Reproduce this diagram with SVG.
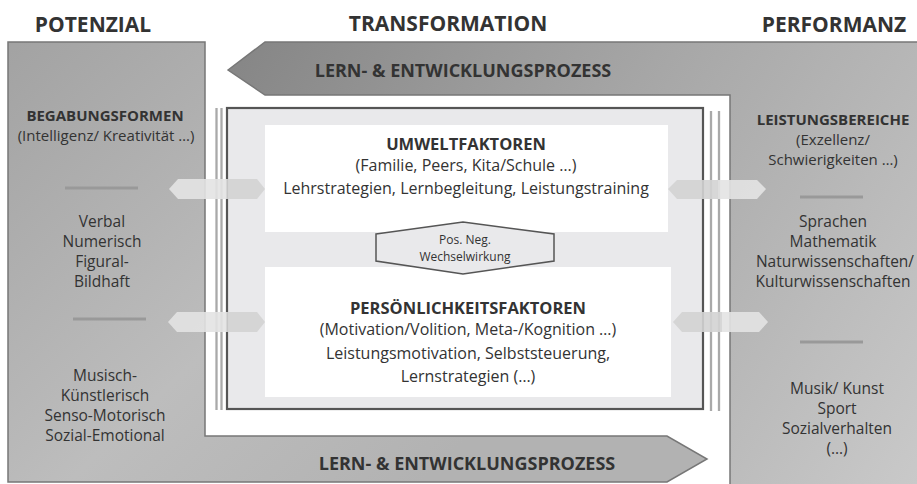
<svg xmlns="http://www.w3.org/2000/svg" width="917" height="484" viewBox="0 0 917 484">
<defs>
<linearGradient id="gL" gradientUnits="userSpaceOnUse" x1="0" y1="42" x2="420" y2="484">
<stop offset="0" stop-color="#a2a2a2"/><stop offset="0.6" stop-color="#bdbdbd"/><stop offset="1" stop-color="#b2b2b2"/>
</linearGradient>
<linearGradient id="gR" gradientUnits="userSpaceOnUse" x1="228" y1="42" x2="917" y2="484">
<stop offset="0" stop-color="#858585"/><stop offset="0.45" stop-color="#a6a6a6"/><stop offset="1" stop-color="#c9c9c9"/>
</linearGradient>
<style>
.pan{stroke:#777;stroke-width:1.5}
.t{font-family:"Open Sans","Noto Sans",sans-serif;fill:#333;text-anchor:middle}
.b{font-weight:bold}
.hd{font-size:21px}
.pr{font-size:18px}
.p{font-size:15.5px}
.s{font-size:15px}
.c{font-size:16px}
.sep{stroke:#999;stroke-width:3}
.vl{stroke:#a9a9a9;stroke-width:2.3}
.dl{fill:#e3e3e3;opacity:0.9}
.dr{fill:#d3d3d3;opacity:0.9}
</style>
</defs>
<g id="titles">
<text class="t b hd" x="93" y="32">POTENZIAL</text>
<text class="t b hd" x="448" y="31">TRANSFORMATION</text>
<text class="t b hd" x="834" y="32">PERFORMANZ</text>
</g>
<g id="potenzial">
<path class="pan" fill="url(#gL)" d="M8 42 H205 V436 H667 L707 459 L667 482 H8 Z"/>
<text class="t b s" x="105" y="121">BEGABUNGSFORMEN</text>
<text class="t s" x="106" y="141">(Intelligenz/ Kreativität …)</text>
<line class="sep" x1="65" y1="188" x2="138" y2="188"/>
<text class="t p" x="102" y="227">Verbal</text>
<text class="t p" x="102" y="247">Numerisch</text>
<text class="t p" x="102" y="267">Figural-</text>
<text class="t p" x="102" y="287">Bildhaft</text>
<line class="sep" x1="73" y1="319" x2="146" y2="319"/>
<text class="t p" x="105" y="381">Musisch-</text>
<text class="t p" x="105" y="401">Künstlerisch</text>
<text class="t p" x="105" y="421">Senso-Motorisch</text>
<text class="t p" x="105" y="441">Sozial-Emotional</text>
<text class="t b pr" x="467" y="470">LERN- &amp; ENTWICKLUNGSPROZESS</text>
</g>
<g id="performanz">
<path class="pan" fill="url(#gR)" d="M228 70 L265 42 H920 V486 H730 V95 H265 Z"/>
<text class="t b pr" x="463" y="77">LERN- &amp; ENTWICKLUNGSPROZESS</text>
<text class="t b s" x="833" y="125">LEISTUNGSBEREICHE</text>
<text class="t s" x="833" y="145">(Exzellenz/</text>
<text class="t s" x="833" y="165">Schwierigkeiten …)</text>
<line class="sep" x1="800" y1="197" x2="863" y2="197"/>
<text class="t p" x="833" y="227">Sprachen</text>
<text class="t p" x="833" y="247">Mathematik</text>
<text class="t p" x="835" y="267">Naturwissenschaften/</text>
<text class="t p" x="833" y="287">Kulturwissenschaften</text>
<line class="sep" x1="800" y1="342" x2="863" y2="342"/>
<text class="t p" x="837" y="394">Musik/ Kunst</text>
<text class="t p" x="837" y="414">Sport</text>
<text class="t p" x="837" y="434">Sozialverhalten</text>
<text class="t p" x="837" y="454">(…)</text>
</g>
<g id="transformation">
<line class="vl" x1="216.5" y1="108" x2="216.5" y2="410"/>
<line class="vl" x1="221.5" y1="108" x2="221.5" y2="410"/>
<line class="vl" x1="711" y1="111" x2="711" y2="411"/>
<line class="vl" x1="719" y1="111" x2="719" y2="411"/>
<rect x="227" y="108" width="476" height="301" fill="#e9e9eb" stroke="#555" stroke-width="2.2"/>
</g>
<g id="umweltfaktoren">
<rect x="265" y="125" width="403" height="107" fill="#fff"/>
<text class="t b" style="font-size:16.5px" x="466" y="150">UMWELTFAKTOREN</text>
<text class="t c" x="466" y="171">(Familie, Peers, Kita/Schule …)</text>
<text class="t c" x="466" y="194">Lehrstrategien, Lernbegleitung, Leistungstraining</text>
</g>
<g id="persoenlichkeitsfaktoren">
<rect x="265" y="267" width="406" height="130" fill="#fff"/>
<text class="t b" style="font-size:16.5px" x="468" y="314">PERSÖNLICHKEITSFAKTOREN</text>
<text class="t c" x="468" y="335">(Motivation/Volition, Meta-/Kognition …)</text>
<text class="t c" x="468" y="359">Leistungsmotivation, Selbststeuerung,</text>
<text class="t c" x="468" y="382">Lernstrategien (…)</text>
</g>
<g id="wechselwirkung">
<polygon points="376,234 463,222 554,234 554,261 463,274 376,261" fill="#e9e9eb" stroke="#555" stroke-width="1.5"/>
<text class="t" style="font-size:12px" x="465" y="244">Pos. Neg.</text>
<text class="t" style="font-size:12px" x="465" y="261">Wechselwirkung</text>
</g>
<g id="connectors">
<polygon class="dl" points="169,189 178,179 227,179 227,199 178,199"/>
<polygon class="dr" points="227,179 257,179 265,189 257,199 227,199"/>
<polygon class="dl" points="168,322 177,312 227,312 227,332 177,332"/>
<polygon class="dr" points="227,312 257,312 265,322 257,332 227,332"/>
<polygon class="dr" points="668,189 677,180 718,180 718,199 677,199"/>
<polygon class="dl" points="718,180 757,180 766,189 757,199 718,199"/>
<polygon class="dr" points="673,322 682,312 722,312 722,332 682,332"/>
<polygon class="dl" points="722,312 759,312 768,322 759,332 722,332"/>
</g>
</svg>
